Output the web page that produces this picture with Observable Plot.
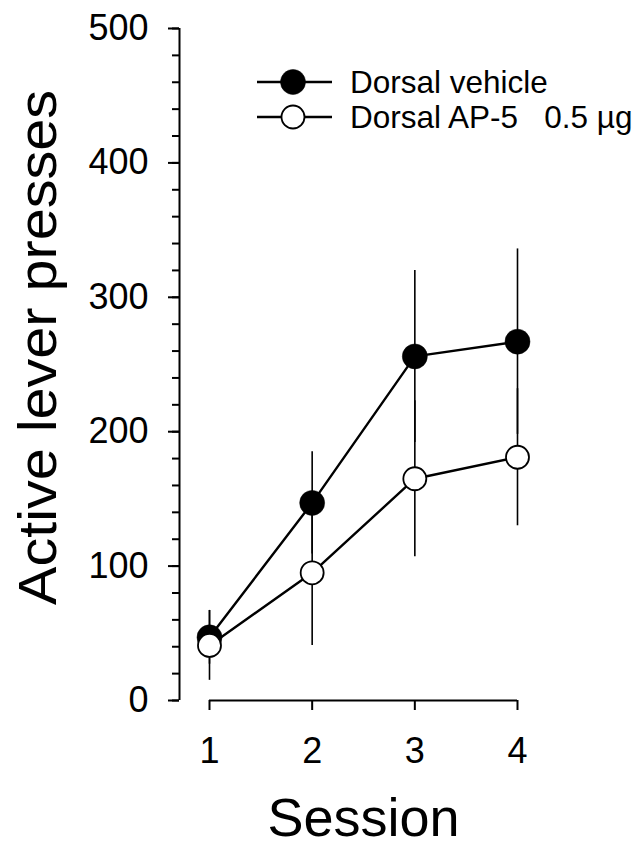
<!DOCTYPE html>
<html>
<head>
<meta charset="utf-8">
<script src="https://cdn.jsdelivr.net/npm/d3@7"></script>
<script src="https://cdn.jsdelivr.net/npm/@observablehq/plot@0.6"></script>
<style>
  html, body { margin: 0; padding: 0; background: #fff; }
  #chart { width: 642px; height: 847px; }
</style>
</head>
<body>
<div id="chart"></div>
<script>
const sessions = [1, 2, 3, 4];
const vehicleMean = [47, 147, 256, 267];
const vehicleErr = [20, 38, 64, 69];
const ap5Mean = [41, 95, 165, 181];
const ap5Err = [26, 54, 58, 51];
const yMajorTicks = [0, 100, 200, 300, 400, 500];
const yMinorTicks = d3.range(0, 501, 20);
const seriesNames = ["Dorsal vehicle", "Dorsal AP-5\u00A0\u00A0\u00A00.5 µg"];
const xLabel = "Session";
const yLabel = "Active lever presses";

const vehicle = sessions.map((s, i) => ({session: s, mean: vehicleMean[i], err: vehicleErr[i], group: seriesNames[0]}));
const ap5 = sessions.map((s, i) => ({session: s, mean: ap5Mean[i], err: ap5Err[i], group: seriesNames[1]}));
const all = vehicle.concat(ap5);

const font = "'Liberation Sans', Arial, Helvetica, sans-serif";
const axisOffset = -30;

const plot = Plot.plot({
  width: 642,
  height: 847,
  marginLeft: 209,
  marginRight: 125,
  marginTop: 28,
  marginBottom: 147,
  style: {fontFamily: font, background: "#fff", color: "#000"},
  x: {domain: d3.extent(sessions)},
  y: {domain: d3.extent(yMajorTicks)},
  marks: [
    Plot.ruleX([{x: sessions[0], y1: yMajorTicks[0], y2: yMajorTicks[yMajorTicks.length - 1]}], {x: "x", y1: "y1", y2: "y2", dx: axisOffset, strokeWidth: 2, stroke: "#000"}),
    Plot.axisY({ticks: yMinorTicks, tickSize: 7, text: null, dx: axisOffset, strokeWidth: 2, label: null}),
    Plot.axisY({ticks: yMajorTicks, tickSize: 11, tickPadding: 20, fontSize: 36, dx: axisOffset, strokeWidth: 2, label: null, tickFormat: d3.format("d")}),
    Plot.ruleY([{y: yMajorTicks[0], x1: d3.min(sessions), x2: d3.max(sessions)}], {y: "y", x1: "x1", x2: "x2", strokeWidth: 2, stroke: "#000"}),
    Plot.axisX({ticks: sessions, tickSize: 10, tickPadding: 27, fontSize: 36, strokeWidth: 2, label: null, tickFormat: d3.format("d")}),
    Plot.text([yLabel], {frameAnchor: "left", rotate: -90, dx: -171, dy: -17, fontSize: 54, textAnchor: "middle", lineAnchor: "middle", fill: "#000"}),
    Plot.text([xLabel], {frameAnchor: "bottom", dy: 118, fontSize: 54, textAnchor: "middle", lineAnchor: "middle", fill: "#000"}),
    Plot.ruleX(all, {x: "session", y1: d => d.mean - d.err, y2: d => d.mean + d.err, stroke: "#000", strokeWidth: 1.6}),
    Plot.line(all, {x: "session", y: "mean", z: "group", stroke: "#000", strokeWidth: 2.4}),
    Plot.dot(vehicle, {x: "session", y: "mean", r: 12.5, fill: "#000", stroke: "#000", strokeWidth: 0.5}),
    Plot.dot(ap5, {x: "session", y: "mean", r: 11.5, fill: "#fff", stroke: "#000", strokeWidth: 1.8})
  ]
});

document.getElementById("chart").appendChild(plot);

d3.select(plot).selectAll("text").filter(function() { return this.textContent === yLabel; })
  .attr("textLength", 515).attr("lengthAdjust", "spacingAndGlyphs");

const svg = d3.select(plot);
const lg = svg.append("g").attr("font-family", font).attr("text-anchor", "start");
const legendItems = [
  {name: seriesNames[0], fill: "#000", r: 12.5, sw: 0.5},
  {name: seriesNames[1], fill: "#fff", r: 11.5, sw: 1.8}
];
legendItems.forEach((it, i) => {
  const g = lg.append("g").attr("transform", `translate(257,${82 + i * 35})`);
  g.append("line").attr("x1", 0).attr("x2", 75).attr("y1", 0).attr("y2", 0).attr("stroke", "#000").attr("stroke-width", 2.4);
  g.append("circle").attr("cx", 36).attr("cy", 0).attr("r", it.r).attr("fill", it.fill).attr("stroke", "#000").attr("stroke-width", it.sw);
  g.append("text").attr("x", 93).attr("y", 0).attr("dy", "0.35em").attr("font-size", 31.5).attr("fill", "#000").attr("text-anchor", "start").text(it.name);
});
</script>
</body>
</html>
